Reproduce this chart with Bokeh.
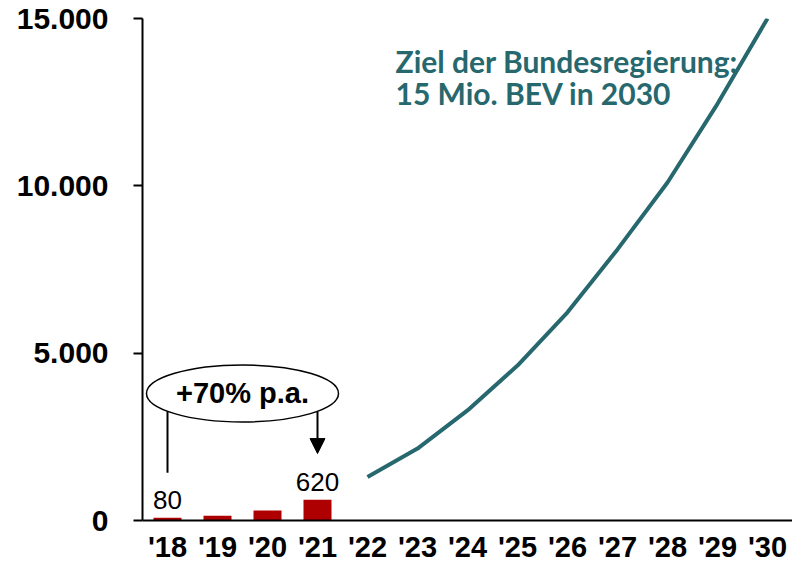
from bokeh.plotting import figure
from bokeh.models import FactorRange, Range1d, FixedTicker, Arrow, NormalHead
from bokeh.core.properties import value
from bokeh.embed import file_html
from bokeh.resources import INLINE

# ---- data ----
years = ["'18", "'19", "'20", "'21", "'22", "'23", "'24", "'25", "'26", "'27", "'28", "'29", "'30"]
hist_years = ["'18", "'19", "'20", "'21"]
hist_values = [80, 140, 300, 620]          # thousand BEV
label_years = ["'18", "'21"]
label_values = [80, 620]
label_texts = ["80", "620"]
target_years = ["'22", "'23", "'24", "'25", "'26", "'27", "'28", "'29", "'30"]
target_values = [1300, 2150, 3290, 4630, 6220, 8100, 10100, 12450, 15000]
y_ticks = [0, 5000, 10000, 15000]
y_tick_labels = ["0", "5.000", "10.000", "15.000"]
title_lines = ["Ziel der Bundesregierung:", "15 Mio. BEV in 2030"]
growth_text = "+70% p.a."

RED = "#AE0000"
TEAL = "#26686E"

p = figure(x_range=FactorRange(factors=years), y_range=Range1d(0, 15000),
           width=792, height=565, output_backend="svg", toolbar_location=None,
           min_border_left=142, min_border_right=0, min_border_top=18, min_border_bottom=45)
p.outline_line_color = None
p.xgrid.grid_line_color = None
p.ygrid.grid_line_color = None
p.background_fill_color = "white"

# bars
p.vbar(x=hist_years, top=hist_values, width=0.56, color=RED, line_color=None)

# bar labels
p.text(x=label_years, y=label_values, text=label_texts, text_align="center",
       text_baseline="bottom", y_offset=-9, text_font=value("Liberation Sans"),
       text_font_size="26px", text_color="black")

# target line
p.line(x=target_years, y=target_values, line_color=TEAL, line_width=4)

# title text
p.text(x=[5.06, 5.06], y=[13745, 12760], text=title_lines, text_align="left",
       text_baseline="alphabetic", text_font=value("Lato"), text_font_style="bold",
       text_font_size="30px", text_color=TEAL)

# growth annotation: connector line, ellipse, arrow
p.segment(x0=[0.5], y0=[3250], x1=[0.5], y1=[1430], line_color="black", line_width=2)
p.add_layout(Arrow(end=NormalHead(size=15, fill_color="black", line_color="black"),
                   x_start=3.5, y_start=3250, x_end=3.5, y_end=2000,
                   line_color="black", line_width=2))
p.ellipse(x=[2.0], y=[3795], width=[3.84], height=[1703], fill_color="white",
          line_color="black", line_width=1.5)
p.text(x=[2.0], y=[3795], text=[growth_text], text_align="center", text_baseline="middle",
       text_font=value("Liberation Sans"), text_font_style="bold", text_font_size="29px",
       text_color="black")

# axes
p.yaxis.ticker = FixedTicker(ticks=y_ticks)
p.yaxis.major_label_overrides = {t: l for t, l in zip(y_ticks, y_tick_labels)}
p.yaxis.minor_tick_line_color = None
p.yaxis.major_tick_out = 9
p.yaxis.major_tick_in = 0
p.yaxis.major_tick_line_width = 2
p.yaxis.major_tick_line_color = "black"
p.yaxis.axis_line_width = 2
p.yaxis.axis_line_color = "black"
p.yaxis.major_label_standoff = 25
p.yaxis.major_label_text_font = "Liberation Sans"
p.yaxis.major_label_text_font_style = "bold"
p.yaxis.major_label_text_font_size = "30px"
p.yaxis.major_label_text_color = "black"

p.xaxis.major_tick_line_color = None
p.xaxis.major_tick_out = 0
p.xaxis.major_tick_in = 0
p.xaxis.axis_line_width = 2
p.xaxis.axis_line_color = "black"
p.xaxis.major_label_standoff = 10
p.xaxis.major_label_text_font = "Liberation Sans"
p.xaxis.major_label_text_font_style = "bold"
p.xaxis.major_label_text_font_size = "29px"
p.xaxis.major_label_text_color = "black"

open("out.html", "w").write(file_html(p, INLINE))
